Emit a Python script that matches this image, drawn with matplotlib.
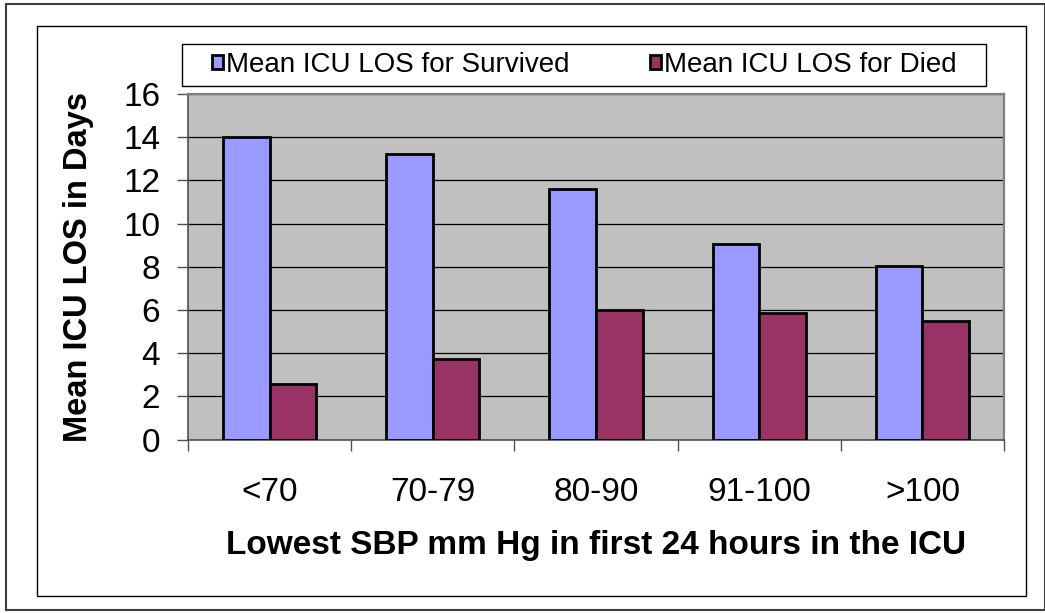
import matplotlib
matplotlib.use("Agg")
import matplotlib.pyplot as plt
from matplotlib.patches import Rectangle
import numpy as np

plt.rcParams['font.family'] = ['Liberation Sans', 'DejaVu Sans']

# lowest systolic BP groups and mean ICU stay
groups = ["<70", "70-79", "80-90", "91-100", ">100"]
los_survived = [14.0, 13.2, 11.6, 9.05, 8.05]
los_died = [2.55, 3.75, 6.0, 5.85, 5.5]

c_surv = "#9999FF"
c_died = "#993366"

W, H = 1045, 613
fig = plt.figure(figsize=(W / 100, H / 100), dpi=100)

# helper: pixel box -> figure fraction
def px_box(x0, y0, x1, y1):
    return [x0 / W, 1 - y1 / H, (x1 - x0) / W, (y1 - y0) / H]

def frame(x0, y0, x1, y1, **kw):
    b = px_box(x0, y0, x1, y1)
    fig.patches.append(Rectangle((b[0], b[1]), b[2], b[3], transform=fig.transFigure,
                                 zorder=-1, **kw))

# outer and inner frames, legend box
frame(6, 4, 1045, 610, fill=False, edgecolor="#404040", linewidth=1.5)
frame(37, 25.5, 1026, 595.5, fill=False, edgecolor="black", linewidth=1.0)
frame(182, 44, 986, 86, facecolor="white", edgecolor="black", linewidth=1.0)

ax = fig.add_axes(px_box(188, 94, 1004, 439.5))
ax.set_facecolor("#C0C0C0")

x = np.arange(len(groups))
bw = 1 / 3.5
ax.bar(x - bw / 2, los_survived, bw, color=c_surv, edgecolor="black", linewidth=2.0,
       label="Mean ICU LOS for Survived", zorder=3)
ax.bar(x + bw / 2, los_died, bw, color=c_died, edgecolor="black", linewidth=2.0,
       label="Mean ICU LOS for Died", zorder=3)

ax.set_xlim(-0.5, len(groups) - 0.5)
ax.set_ylim(0, 16)
ax.set_yticks(range(0, 17, 2))
ax.yaxis.grid(True, color="black", linewidth=0.9, zorder=1)
ax.set_axisbelow(True)

ax.set_xticks(x)
ax.set_xticklabels(groups, fontsize=24)
ax.set_xticks(np.arange(-0.5, len(groups)), minor=True)
ax.tick_params(axis="x", which="major", length=0, pad=27)
ax.tick_params(axis="x", which="minor", length=8, width=1, color="#505050")
ax.tick_params(axis="y", labelsize=24, length=8, width=1, color="#505050", pad=12)

for s in ("top", "right"):
    ax.spines[s].set_color("#808080")
    ax.spines[s].set_linewidth(1.6)
for s in ("left", "bottom"):
    ax.spines[s].set_color("#505050")
    ax.spines[s].set_linewidth(1.2)

ax.set_ylabel("Mean ICU LOS in Days", fontsize=23.5, fontweight="bold")
ax.yaxis.set_label_coords(-0.115, 0.5)
ax.set_xlabel("Lowest SBP mm Hg in first 24 hours in the ICU", fontsize=24, fontweight="bold",
              labelpad=16)

leg = ax.legend(loc="center", bbox_to_anchor=(584 / W, 1 - 65 / H),
                bbox_transform=fig.transFigure, ncol=2, fontsize=20, frameon=False,
                handlelength=0.42, handleheight=0.42, handletextpad=0.08,
                columnspacing=2.9, borderpad=0, borderaxespad=0)

fig.savefig("out.png", dpi=100)
